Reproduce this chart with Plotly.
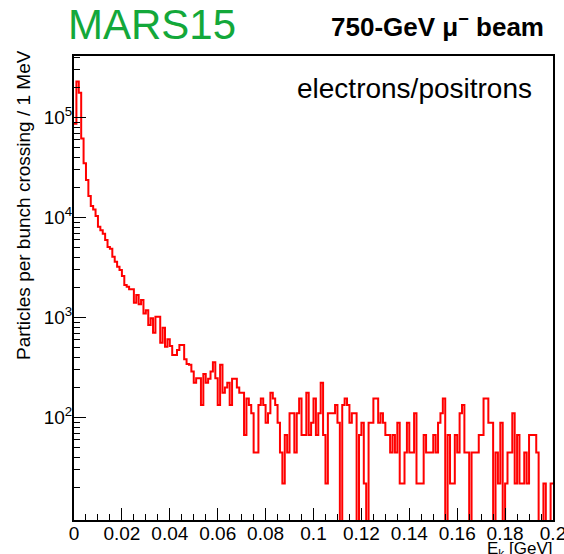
import numpy as np
import plotly.graph_objects as go

# Histogram binning: 1 MeV bins from 0 to 0.2 GeV
e_min_gev = 0.0
bin_width_gev = 0.001

# Particles per bunch crossing per 1 MeV, electrons/positrons
counts = [
    8.7e4, 2.3e5, 1.78e5, 6.2e4, 3.5e4, 2.38e4, 1.65e4, 1.31e4, 1.21e4, 1.04e4,
    8100, 7500, 6900, 6000, 5100, 4900, 4070, 3630, 3240, 3000,
    2610, 2120, 2040, 1920, 1920, 1410, 1690, 1360, 1500, 1100,
    1190, 845, 986, 708, 1020, 1020, 562, 794, 513, 608,
    521, 424, 424, 475, 533, 533, 384, 344, 338, 289,
    224, 248, 248, 134, 273, 224, 245, 289, 358, 248,
    134, 338, 178, 201, 223, 134, 245, 245, 201, 178,
    178, 67, 156, 134, 111, 45, 45, 134, 156, 134,
    89, 111, 178, 156, 134, 89, 45, 22, 67, 45,
    111, 111, 45, 111, 156, 67, 67, 178, 67, 89,
    156, 67, 111, 223, 67, 22, 111, 111, 111, 134,
    89, 0, 134, 156, 134, 89, 111, 111, 0, 67,
    89, 22, 0, 89, 89, 156, 156, 89, 111, 89,
    67, 67, 45, 67, 45, 89, 22, 22, 45, 89,
    45, 45, 111, 22, 22, 22, 67, 45, 45, 45,
    67, 45, 89, 111, 156, 0, 67, 22, 22, 67,
    45, 111, 134, 45, 45, 0, 45, 45, 45, 67,
    67, 156, 156, 89, 89, 0, 45, 22, 89, 0,
    22, 45, 45, 111, 22, 67, 22, 22, 45, 22,
    67, 67, 67, 45, 0, 0, 22, 0, 0, 22,
]

y_tick_exponents = [2, 3, 4, 5]
x_tick_labels = ["0", "0.02", "0.04", "0.06", "0.08", "0.1",
                 "0.12", "0.14", "0.16", "0.18", "0.2"]

# Pixel geometry of the page and the plotting frame
W, H = 564, 554
L, R, T, B = 74, 11, 56, 34
PW, PH = W - L - R, H - T - B
y_log_min, y_log_max = 0.977, 5.617


def px_x(px):
    return (px - L) / PW


def px_y(py):
    return (H - B - py) / PH


vals = np.asarray(counts, dtype=float)
edges = e_min_gev + bin_width_gev * np.arange(len(vals) + 1)
# empty bins drop below the lower edge of the log axis
floor = 10 ** (y_log_min - 1)
shown = np.where(vals > 0, vals, floor)
y_step = np.append(shown, shown[-1])

font_family = "Liberation Sans, Arial, Helvetica, sans-serif"

fig = go.Figure()
fig.add_trace(go.Scatter(
    x=edges, y=y_step, mode="lines",
    line=dict(color="#ff0000", width=2, shape="hv"),
    hoverinfo="skip", showlegend=False,
))

x_ticks = [i * 0.02 for i in range(len(x_tick_labels))]
minor_x = [i * 0.005 for i in range(41)]
minor_y = [m * 10 ** d for d in range(0, 6) for m in range(2, 10)
           if y_log_min < np.log10(m * 10 ** d) < y_log_max]

fig.update_xaxes(
    range=[0, 0.2], showgrid=False, zeroline=False, automargin=False,
    showline=True, linecolor="black", linewidth=2, mirror=True,
    ticks="inside", ticklen=12, tickwidth=1, tickcolor="black",
    tickmode="array", tickvals=x_ticks, ticktext=x_tick_labels,
    ticklabeloverflow="allow", ticklabelstandoff=-5,
    tickfont=dict(family=font_family, size=19, color="black"),
    minor=dict(ticks="inside", ticklen=6, tickwidth=1, tickcolor="black",
               tickmode="array", tickvals=minor_x, showgrid=False),
)
fig.update_yaxes(
    type="log", range=[y_log_min, y_log_max], showgrid=False, zeroline=False,
    automargin=False, ticklabeloverflow="allow", ticklabelstandoff=-4,
    showline=True, linecolor="black", linewidth=2, mirror=True,
    ticks="inside", ticklen=12, tickwidth=1, tickcolor="black",
    tickmode="array", tickvals=[10 ** e for e in y_tick_exponents],
    ticktext=["10<sup>%d</sup>" % e for e in y_tick_exponents],
    tickfont=dict(family=font_family, size=19, color="black"),
    minor=dict(ticks="inside", ticklen=6, tickwidth=1, tickcolor="black",
               tickmode="array", tickvals=minor_y, showgrid=False),
)

annotations = [
    dict(text="MARS15", x=px_x(66), y=px_y(25), xanchor="left", yanchor="middle",
         font=dict(family=font_family, size=42, color="#13a83a")),
    dict(text="<b>750-GeV μ<sup>−</sup> beam</b>", x=px_x(546), y=px_y(26),
         xanchor="right", yanchor="middle",
         font=dict(family=font_family, size=26, color="black")),
    dict(text="electrons/positrons", x=px_x(534), y=px_y(88),
         xanchor="right", yanchor="middle",
         font=dict(family=font_family, size=28, color="black")),
    dict(text="Particles per bunch crossing / 1 MeV", x=px_x(23), y=px_y(48),
         xanchor="center", yanchor="top", textangle=-90,
         font=dict(family=font_family, size=19, color="black")),
    dict(text="E<sub>k</sub> [GeV]", x=px_x(554), y=px_y(537),
         xanchor="right", yanchor="top",
         font=dict(family=font_family, size=17, color="black")),
]
for a in annotations:
    a.update(xref="paper", yref="paper", showarrow=False)

fig.update_layout(
    width=W, height=H, autosize=False,
    margin=dict(l=L, r=R, t=T, b=B, pad=0),
    paper_bgcolor="white", plot_bgcolor="white",
    annotations=annotations,
)

fig.write_html("out.html")
